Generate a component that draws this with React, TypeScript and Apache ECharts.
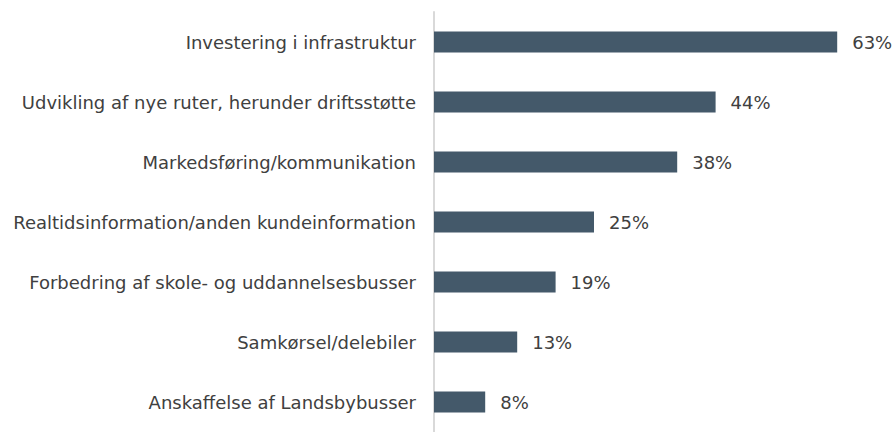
import React, { useEffect, useRef } from "react";
import * as echarts from "echarts";

const categories = [
  "Investering i infrastruktur",
  "Udvikling af nye ruter, herunder driftsstøtte",
  "Markedsføring/kommunikation",
  "Realtidsinformation/anden kundeinformation",
  "Forbedring af skole- og uddannelsesbusser",
  "Samkørsel/delebiler",
  "Anskaffelse af Landsbybusser",
];
const values = [63, 44, 38, 25, 19, 13, 8];

export default function App() {
  const ref = useRef<HTMLDivElement>(null);
  useEffect(() => {
    if (!ref.current) return;
    const chart = echarts.init(ref.current, undefined, { renderer: "svg" });
    const font = "'DejaVu Sans', Verdana, sans-serif";
    chart.setOption({
      animation: false,
      grid: { left: 434, top: 12, width: 448, height: 429, containLabel: false },
      xAxis: {
        type: "value",
        min: 0,
        max: 70,
        show: false,
      },
      yAxis: {
        type: "category",
        inverse: true,
        data: categories,
        axisLine: { show: true, lineStyle: { color: "#d9d9d9", width: 2 } },
        axisTick: { show: false },
        axisLabel: { color: "#404040", fontSize: 18, fontFamily: font, margin: 18 },
      },
      series: [
        {
          type: "bar",
          data: values,
          barWidth: 21,
          itemStyle: { color: "#44596a" },
          label: {
            show: true,
            position: "right",
            distance: 15,
            formatter: "{c}%",
            color: "#404040",
            fontSize: 18,
            fontFamily: font,
          },
        },
      ],
    });
    return () => chart.dispose();
  }, []);
  return <div ref={ref} style={{ width: 896, height: 432, position: "absolute", left: 0, top: 0 }} />;
}
